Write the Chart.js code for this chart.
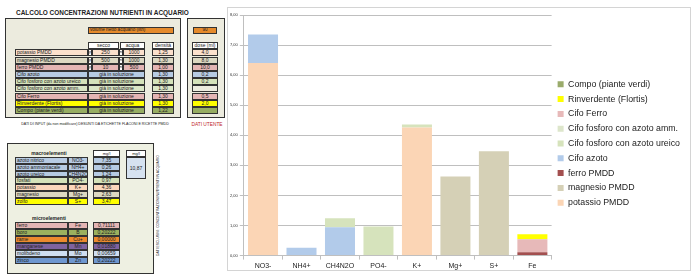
<!DOCTYPE html>
<html>
<head>
<meta charset="utf-8">
<script src="https://cdn.jsdelivr.net/npm/chart.js@4.4.1/dist/chart.umd.min.js"></script>
<style>
  body { margin: 0; background: #fff; font-family: "Liberation Sans", Arial, sans-serif; }
  #page { position: relative; width: 699px; height: 280px; overflow: hidden; }
  .c { position: absolute; box-sizing: border-box; font-size: 5px; line-height: 1; white-space: nowrap; color: #222; display: flex; align-items: center; overflow: hidden; }
  .b { border: 0.6px solid #333; }
  #chartBox { position: absolute; left: 227px; top: 7px; width: 464px; height: 264px; border: 1px solid #d4d4d4; box-sizing: border-box; }
  #chartBox canvas { position: absolute; left: 0; top: 0; }
</style>
</head>
<body>
<div id="page">
  <div id="chartBox"><canvas id="mycanvas" width="462" height="262"></canvas></div>
</div>
<script>
// --- chart data ---
var categories = ['NO3-', 'NH4+', 'CH4N2O', 'PO4-', 'K+', 'Mg+', 'S+', 'Fe'];
var potassioPMDD  = [6.40, 0, 0, 0, 4.26, 0, 0, 0];
var magnesioPMDD  = [0, 0, 0, 0, 0, 2.63, 3.47, 0];
var ferroPMDD     = [0, 0, 0, 0, 0, 0, 0, 0.11];
var cifoAzoto     = [0.95, 0.26, 0.94, 0, 0, 0, 0, 0];
var cifoFosUreico = [0, 0, 0.30, 0.97, 0.10, 0, 0, 0];
var cifoFosAmm    = [0, 0, 0, 0, 0, 0, 0, 0];
var cifoFerro     = [0, 0, 0, 0, 0, 0, 0, 0.43];
var rinverdente   = [0, 0, 0, 0, 0, 0, 0, 0.17];
var compo         = [0, 0, 0, 0, 0, 0, 0, 0];
var yTicks = [0, 1, 2, 3, 4, 5, 6, 7, 8];

// --- spreadsheet data ---
var prodotti = ['potassio PMDD', 'magnesio PMDD', 'ferro PMDD', 'Cifo azoto', 'Cifo fosforo con azoto ureico',
                'Cifo fosforo con azoto amm.', 'Cifo Ferro', 'Rinverdente (Flortis)', 'Compo (piante verdi)'];
var prodottiColori = ['#fbe0cc', '#dcd8c2', '#e4b5b4', '#b7cbe3', '#d5e2ba', '#dbe6c6', '#e4b5b4', '#ffff00', '#97ad62'];
var secco = ['250', '500', '10'];
var acqua = ['1000', '1000', '500'];
var densita = ['1,25', '1,30', '1,00', '1,30', '1,30', '1,30', '1,30', '1,30', '1,22'];
var dose = ['4,0', '8,0', '10,0', '0,2', '0,2', '', '0,5', '2,0', ''];

var macroNomi = ['azoto nitrico', 'azoto ammoniacale', 'azoto ureico', 'fosfati', 'potassio', 'magnesio', 'zolfo'];
var macroSimboli = ['NO3-', 'NH4+', 'CH4N2O', 'PO4-', 'K+', 'Mg+', 'S+'];
var macroValori = ['7,35', '0,26', '1,24', '0,97', '4,36', '2,63', '3,47'];
var macroColori = ['#b7cbe3', '#b7cbe3', '#b7cbe3', '#d5e2ba', '#fbd7bc', '#dcd8c2', '#ffff00'];

var microNomi = ['ferro', 'boro', 'rame', 'manganese', 'molibdeno', 'zinco'];
var microSimboli = ['Fe', 'B', 'Cu+', 'Mn', 'Mo', 'Zn'];
var microValori = ['0,71111', '0,20222', '0,00000', '0,01880', '0,00659', '0,20222'];
var microColori = ['#e4b5b4', '#9bb05e', '#ec8a2e', '#7e63a0', '#cfdef0', '#6e97cf'];

var page = document.getElementById('page');
function cell(x, y, w, h, bg, txt, opt) {
    opt = opt || {};
    var d = document.createElement('div');
    d.className = 'c' + (opt.nob ? '' : ' b');
    d.style.left = x + 'px'; d.style.top = y + 'px';
    d.style.width = w + 'px'; d.style.height = h + 'px';
    if (bg) d.style.background = bg;
    d.style.justifyContent = opt.al || 'center';
    if (opt.al === 'flex-start') d.style.paddingLeft = '1px';
    if (opt.fs) d.style.fontSize = opt.fs + 'px';
    if (opt.col) d.style.color = opt.col;
    if (opt.bold) d.style.fontWeight = 'bold';
    if (opt.u) d.style.textDecoration = 'underline';
    if (opt.bw) d.style.borderWidth = opt.bw + 'px';
    d.textContent = txt || '';
    page.appendChild(d);
    return d;
}

// title + panels
cell(15, 8, 210, 10, null, 'CALCOLO CONCENTRAZIONI NUTRIENTI IN ACQUARIO', {nob: 1, fs: 6.45, bold: 1, al: 'flex-start'});
cell(5, 18, 176, 100, '#ecebde', '', {bw: 1});
cell(187, 18, 38, 100, '#ecebde', '', {bw: 1});
cell(88, 27, 86, 7, '#e58a2c', 'volume netto acquario (litri)', {al: 'flex-start', fs: 4.6});
cell(193, 27, 24, 7, '#e58a2c', '90', {fs: 4.6});
cell(88, 42, 31, 7, '#fff', 'secco');
cell(120, 42, 25, 7, '#fff', 'acqua');
cell(152, 42, 22, 7, '#fff', 'densità');
cell(192, 42, 26, 7, '#fff', 'dose (ml)');

var rowH = 7.2;
for (var i = 0; i < prodotti.length; i++) {
    var y = 49.3 + i * rowH;
    var col = prodottiColori[i];
    cell(15, y, 73, rowH, col, prodotti[i], {al: 'flex-start'});
    if (i < 3) {
        cell(88, y, 4, rowH, '#fff', 'gr', {fs: 3});
        cell(92, y, 27, rowH, col, secco[i]);
        cell(119, y, 4, rowH, '#fff', 'ml', {fs: 3});
        cell(123, y, 22, rowH, col, acqua[i]);
    } else {
        cell(88, y, 57, rowH, col, 'già in soluzione');
    }
    cell(152, y, 22, rowH, col, densita[i]);
    cell(192, y, 26, rowH, (i === 5 ? '#ecebde' : col), dose[i]);
}
cell(12, 122, 166, 6, null, 'DATI DI INPUT (da non modificare) DESUNTI DA ETICHETTE FLACONI E RICETTE PMDD', {nob: 1, fs: 3.6});
cell(189, 122, 36, 7, null, 'DATI UTENTE', {nob: 1, fs: 4.8, col: '#c0262d'});

// bottom panel
cell(7, 143, 147, 131, '#eef0e2', '', {bw: 1});
cell(28, 150, 42, 6, null, 'macroelementi', {nob: 1, bold: 1, u: 1});
cell(93, 150, 27, 7, '#fff', 'mg/l', {fs: 4});
cell(126, 150, 20, 7, '#fff', 'mg/l', {fs: 4});
cell(126, 157, 20, 22, '#d6e2f0', '10,87');
for (var m = 0; m < macroNomi.length; m++) {
    var ym = 157 + m * 6.8;
    cell(15, ym, 53, 6.8, macroColori[m], macroNomi[m], {al: 'flex-start'});
    cell(68, ym, 20, 6.8, macroColori[m], macroSimboli[m]);
    cell(93, ym, 27, 6.8, macroColori[m], macroValori[m]);
}
cell(28, 215, 42, 6, null, 'microelementi', {nob: 1, bold: 1, u: 1});
for (var k = 0; k < microNomi.length; k++) {
    var yk = 222 + k * 7;
    cell(15, yk, 53, 7, microColori[k], microNomi[k], {al: 'flex-start'});
    cell(68, yk, 20, 7, microColori[k], microSimboli[k]);
    cell(93, yk, 27, 7, microColori[k], microValori[k]);
}
var vt = cell(102, 203, 112, 5, null, 'DATI ESCLUSIVI: CONCENTRAZIONI NUTRIENTI IN ACQUARIO', {nob: 1, fs: 3.4});
vt.style.transform = 'rotate(-90deg)';

// --- chart ---
function ds(label, data, color) {
    return { label: label, data: data, backgroundColor: color, borderWidth: 0, stack: 's' };
}
var chartdata = {
    labels: categories,
    datasets: [
        ds('potassio PMDD', potassioPMDD, '#fbd5b5'),
        ds('magnesio PMDD', magnesioPMDD, '#d5d0b6'),
        ds('ferro PMDD', ferroPMDD, '#a34f4f'),
        ds('Cifo azoto', cifoAzoto, '#b2cbea'),
        ds('Cifo fosforo con azoto ureico', cifoFosUreico, '#d6e3bc'),
        ds('Cifo fosforo con azoto amm.', cifoFosAmm, '#dde6cb'),
        ds('Cifo Ferro', cifoFerro, '#e7b9b9'),
        ds('Rinverdente (Flortis)', rinverdente, '#ffff00'),
        ds('Compo (piante verdi)', compo, '#9aab6b')
    ]
};
const config = {
    type: 'bar',
    data: chartdata,
    options: {
        responsive: false,
        animation: false,
        categoryPercentage: 1,
        barPercentage: 0.78,
        layout: { padding: { top: 7, left: 0, right: 0, bottom: -2 } },
        plugins: {
            tooltip: { enabled: false },
            legend: {
                position: 'right',
                reverse: true,
                maxWidth: 160,
                labels: {
                    boxWidth: 6, boxHeight: 6, padding: 6,
                    color: '#222',
                    font: { family: 'Liberation Sans', size: 8.8 }
                }
            }
        },
        scales: {
            x: {
                stacked: true,
                grid: { drawOnChartArea: false, tickLength: 4, color: '#bfbfbf' },
                border: { color: '#bfbfbf' },
                ticks: { padding: 2, color: '#222', font: { family: 'Liberation Sans', size: 7 } }
            },
            y: {
                stacked: true,
                min: yTicks[0], max: yTicks[yTicks.length - 1],
                afterBuildTicks: function(axis) { axis.ticks = yTicks.map(function(v) { return { value: v }; }); },
                grid: { tickLength: 4, color: '#bfbfbf' },
                border: { color: '#bfbfbf' },
                ticks: {
                    padding: 2, color: '#333',
                    font: { family: 'Liberation Sans', size: 4 },
                    callback: function(v) { return v.toFixed(2).replace('.', ','); }
                }
            }
        }
    }
};
const myChart = new Chart(document.getElementById('mycanvas'), config);
</script>
</body>
</html>
